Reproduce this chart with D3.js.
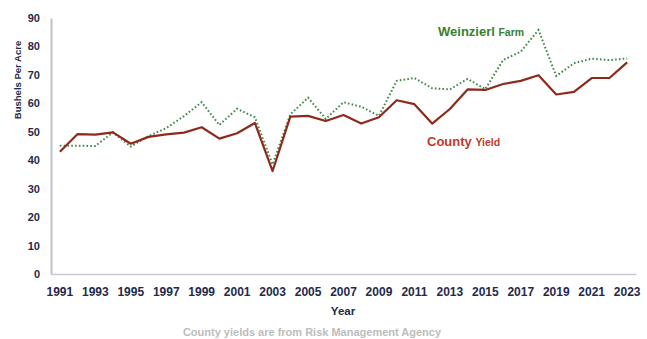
<!DOCTYPE html>
<html><head><meta charset="utf-8">
<script src="https://cdn.jsdelivr.net/npm/d3@7"></script>
<style>body{margin:0;background:#fff;} text{font-family:"Liberation Sans",Arial,sans-serif;}</style>
</head><body>
<svg id="c" width="647" height="339"></svg>
<script>
const years = d3.range(1991, 2024);
const countyYield = [43.0,49.2,49.0,49.8,45.8,48.2,49.1,49.7,51.6,47.6,49.5,53.1,36.2,55.3,55.6,53.8,55.9,52.9,55.1,61.1,59.7,52.9,58.0,64.9,64.7,66.8,67.9,69.9,63.1,64.0,68.9,68.9,74.4];
const farmYield   = [45.1,45.1,45.0,49.8,44.8,48.5,51.3,55.5,60.4,52.4,58.1,55.1,38.5,56.1,62.0,54.5,60.4,58.8,55.6,67.9,68.9,65.3,64.9,68.6,65.0,75.2,78.2,85.8,69.6,74.1,75.7,75.2,75.8];
const yTicks = [0,10,20,30,40,50,60,70,80,90];
const xTickYears = years.filter(v => (v - 1991) % 2 === 0);

const svg = d3.select("#c");
const mLeft = 51, mRight = 636, mTop = 18, mBottom = 274;
const x = d3.scaleBand().domain(years).range([mLeft, mRight]);
const xc = d => x(d) + x.bandwidth()/2;
const y = d3.scaleLinear().domain([0, 90]).range([mBottom, mTop]);

// axes
const yAxis = svg.append("g").attr("transform", `translate(${mLeft},0)`)
  .call(d3.axisLeft(y).tickValues(yTicks).tickSize(0).tickPadding(11));
yAxis.select(".domain").attr("stroke", "#bcc1cf").attr("stroke-width", 2);
yAxis.selectAll("text").attr("fill", "#1f2b4a").attr("font-weight", "bold").attr("font-size", "11px");

const xAxis = svg.append("g").attr("transform", `translate(0,${mBottom})`)
  .call(d3.axisBottom(x).tickValues(xTickYears).tickSize(0).tickPadding(13));
xAxis.select(".domain").attr("stroke", "#c7cad3").attr("stroke-width", 1.3);
xAxis.selectAll("text").attr("fill", "#1f2b4a").attr("font-weight", "bold").attr("font-size", "12px");

// lines
const line = vals => d3.line().x((d,i) => xc(years[i])).y(d => y(d))(vals);
svg.append("path").attr("d", line(farmYield)).attr("fill", "none")
  .attr("stroke", "#3f8a46").attr("stroke-width", 2).attr("stroke-dasharray", "1.6,2.2");
svg.append("path").attr("d", line(countyYield)).attr("fill", "none")
  .attr("stroke", "#8e2a1c").attr("stroke-width", 2.2).attr("stroke-linejoin", "round");

// titles
svg.append("text").attr("transform", "translate(21,80) rotate(-90)").attr("text-anchor", "middle")
  .attr("fill", "#1f2b4a").attr("font-weight", "bold").attr("font-size", "9.5px").text("Bushels Per Acre");
svg.append("text").attr("x", 343).attr("y", 315).attr("text-anchor", "middle")
  .attr("fill", "#1f2b4a").attr("font-weight", "bold").attr("font-size", "11.5px").text("Year");
svg.append("text").attr("x", 312).attr("y", 336).attr("text-anchor", "middle")
  .attr("fill", "#bdbdbd").attr("font-weight", "bold").attr("font-size", "11px").text("County yields are from Risk Management Agency");

// series labels
const t1 = svg.append("text").attr("x", 438).attr("y", 36).attr("fill", "#3a7e2e").attr("font-weight", "bold");
t1.append("tspan").attr("font-size", "13px").text("Weinzierl ");
t1.append("tspan").attr("font-size", "10.5px").text("Farm");
const t2 = svg.append("text").attr("x", 427).attr("y", 146).attr("fill", "#c0392b").attr("font-weight", "bold");
t2.append("tspan").attr("font-size", "13px").text("County ");
t2.append("tspan").attr("font-size", "10.5px").text("Yield");
</script>
</body></html>
